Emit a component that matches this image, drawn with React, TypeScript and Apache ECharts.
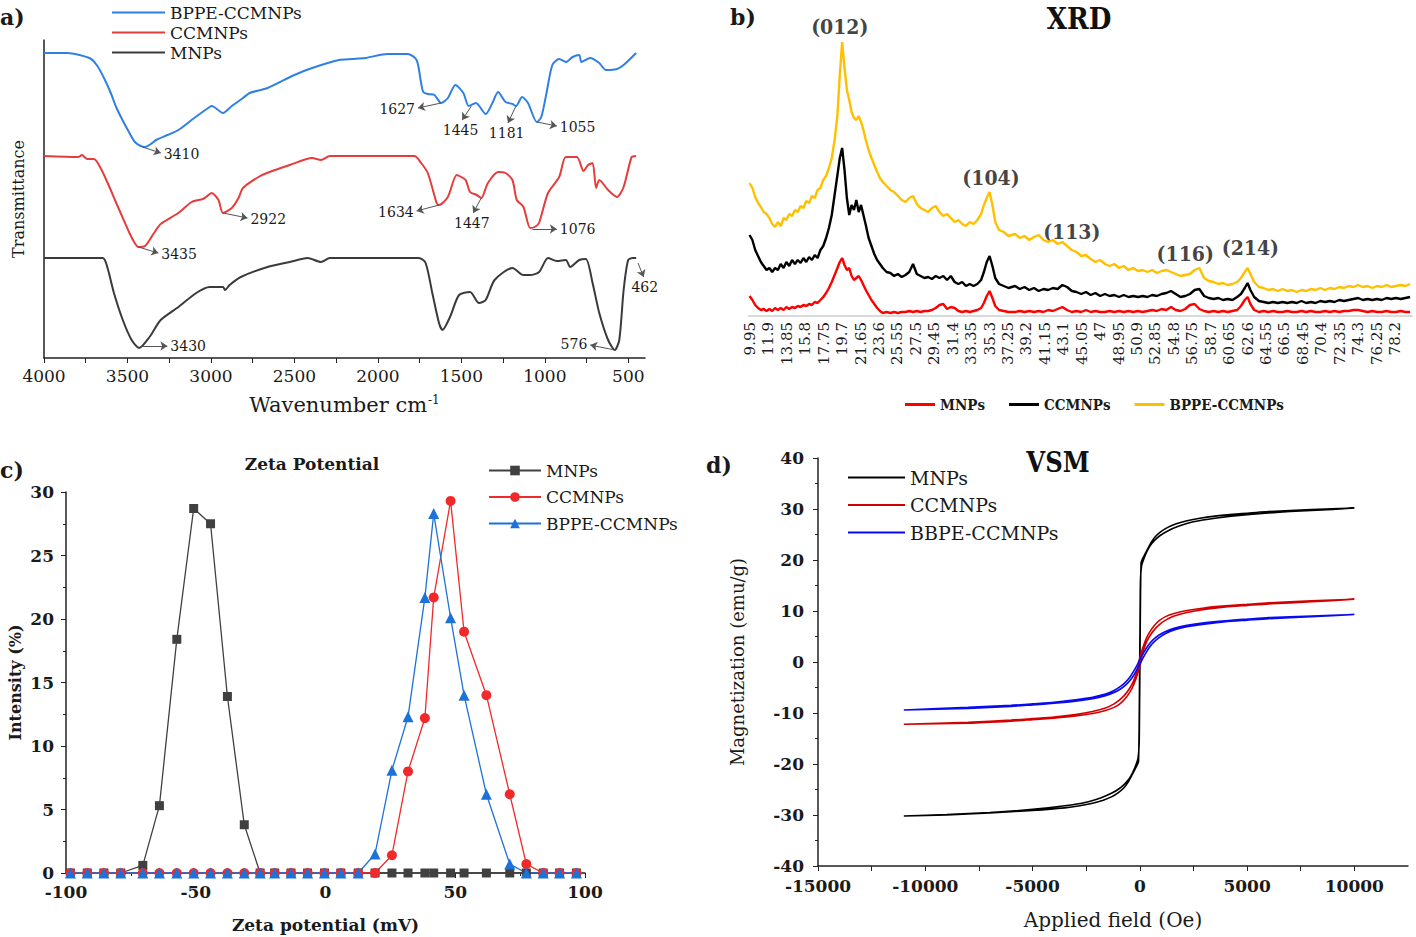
import React, { useEffect, useRef } from "react";
import * as echarts from "echarts";

const SERIF = "'DejaVu Serif', serif";
const COND = "'DejaVu Serif Condensed', 'DejaVu Serif', serif";
const INK = "#1a1a1a";

// ---------------- a) FTIR ----------------
const FTIR_TICKS = [4000, 3500, 3000, 2500, 2000, 1500, 1000, 500];
const FTIR_TICK_MARKS = [4000, 3750, 3500, 3250, 3000, 2750, 2500, 2250, 2000, 1750, 1500, 1250, 1000, 750, 500];
const FTIR_BPPE: [number, number][] = [
  [4000, 305], [3861, 305], [3728, 300], [3680, 292], [3635, 278], [3600, 265], [3568, 251], [3530, 238],
  [3488, 225], [3455, 216], [3421, 212], [3395, 211], [3360, 214], [3328, 218], [3260, 223], [3195, 228],
  [3100, 240], [3008, 251], [2995, 252], [2928, 245], [2875, 252], [2808, 260], [2768, 265], [2661, 270],
  [2500, 283], [2394, 290], [2234, 298], [2150, 299], [2075, 300], [1941, 304], [1821, 304], [1768, 298],
  [1741, 275], [1728, 266], [1700, 264], [1661, 263], [1621, 255], [1581, 260], [1536, 273], [1488, 265],
  [1456, 252], [1413, 255], [1354, 244], [1314, 255], [1280, 266], [1235, 256], [1194, 254], [1173, 252],
  [1136, 261], [1101, 255], [1048, 236], [1021, 241], [990, 265], [955, 293], [914, 299], [874, 296],
  [834, 301], [794, 303], [781, 296], [728, 300], [674, 295], [634, 288], [568, 289], [528, 293], [453, 305],
];
const FTIR_CC: [number, number][] = [
  [4000, 202], [3795, 201], [3773, 203], [3741, 199], [3701, 199], [3661, 190], [3608, 171], [3575, 158],
  [3541, 145], [3488, 125], [3460, 116], [3435, 111], [3395, 112], [3341, 125], [3301, 134], [3195, 145],
  [3115, 156], [3048, 159], [3029, 161], [2995, 165], [2955, 158], [2928, 145], [2875, 150], [2835, 160],
  [2808, 170], [2715, 181], [2650, 186], [2528, 193], [2394, 200], [2341, 198], [2288, 202], [1781, 202],
  [1741, 195], [1701, 185], [1648, 155], [1634, 153], [1581, 161], [1528, 183], [1501, 181], [1474, 178],
  [1448, 166], [1408, 163], [1381, 160], [1341, 175], [1280, 186], [1235, 185], [1194, 178], [1168, 158],
  [1128, 151], [1088, 130], [1061, 131], [1035, 135], [981, 165], [914, 181], [874, 201], [808, 201],
  [768, 187], [741, 193], [714, 195], [693, 170], [674, 178], [621, 168], [568, 161], [528, 171],
  [480, 201], [453, 202],
];
const FTIR_MNP: [number, number][] = [
  [4000, 100], [3648, 100], [3621, 91], [3581, 65], [3528, 38], [3475, 18], [3430, 10], [3368, 21],
  [3301, 38], [3195, 51], [3088, 65], [3008, 71], [2928, 71], [2915, 68], [2888, 73], [2821, 81],
  [2661, 91], [2528, 96], [2421, 100], [2341, 96], [2288, 100], [1754, 100], [1714, 95], [1674, 65],
  [1634, 35], [1613, 28], [1568, 41], [1514, 63], [1448, 66], [1394, 55], [1354, 58], [1301, 78],
  [1194, 90], [1128, 83], [1088, 83], [1034, 86], [981, 100], [928, 97], [874, 98], [848, 91],
  [794, 98], [754, 99], [714, 75], [674, 45], [621, 18], [581, 8], [554, 18], [528, 68],
  [501, 98], [474, 100], [453, 100],
];
const NOTES_BPPE = [
  { text: "3410", from: [3410, 211], to: [3300, 205] },
  { text: "1627", from: [1621, 255], to: [1760, 250] },
  { text: "1445", from: [1440, 252], to: [1495, 238] },
  { text: "1181", from: [1173, 252], to: [1221, 235] },
  { text: "1055", from: [1048, 236], to: [928, 232] },
];
const NOTES_CC = [
  { text: "3435", from: [3435, 111], to: [3315, 105] },
  { text: "2922", from: [2928, 145], to: [2781, 140] },
  { text: "1634", from: [1634, 153], to: [1768, 147] },
  { text: "1447", from: [1381, 160], to: [1429, 145] },
  { text: "1076", from: [1074, 129], to: [928, 129] },
];
const NOTES_MNP = [
  { text: "3430", from: [3421, 12], to: [3261, 12] },
  { text: "576", from: [581, 8], to: [728, 13] },
  { text: "462", from: [442, 95], to: [408, 81] },
];

// ---------------- b) XRD ----------------
const XRD_TICKS = [9.95, 11.9, 13.85, 15.8, 17.75, 19.7, 21.65, 23.6, 25.55, 27.5, 29.45, 31.4, 33.35, 35.3,
  37.25, 39.2, 41.15, 43.1, 45.05, 47, 48.95, 50.9, 52.85, 54.8, 56.75, 58.7, 60.65, 62.6, 64.55, 66.5,
  68.45, 70.4, 72.35, 74.3, 76.25, 78.2];
const THETA = [
  9.9, 10.2, 10.5, 10.8, 11.1, 11.4, 11.7, 12.0, 12.3, 12.6, 12.9, 13.2, 13.5, 13.8, 14.1, 14.4, 14.7, 15.0,
  15.3, 15.6, 15.9, 16.2, 16.5, 16.8, 17.1, 17.4, 17.7, 18.0, 18.3, 18.6, 18.9, 19.2,
  19.45, 19.7, 19.95, 20.2, 20.45, 20.7, 20.95, 21.2, 21.45, 21.7, 21.95, 22.2,
  22.5, 22.8, 23.1, 23.4, 23.7,
  24.0, 24.4, 24.8, 25.2, 25.6, 26.0, 26.4, 26.8, 27.2, 27.6, 28.0, 28.4, 28.8, 29.2, 29.6, 30.0, 30.4, 30.8,
  31.2, 31.6, 32.0, 32.4, 32.8, 33.2, 33.6, 34.0, 34.4,
  34.7, 35.0, 35.3, 35.6, 35.9, 36.3,
  36.8, 37.3,
  38.0, 38.5, 39.0, 39.5, 40.0, 40.5, 41.0, 41.5, 42.0, 42.5, 43.0, 43.5, 44.0, 44.5, 45.0, 45.5, 46.0, 46.5,
  47.0, 47.5, 48.0, 48.5, 49.0, 49.5, 50.0, 50.5, 51.0, 51.5, 52.0, 52.5, 53.0, 53.5, 54.0, 54.5,
  55.0, 55.5, 56.0, 56.5, 57.0, 57.5, 58.0, 58.5, 59.0, 59.5, 60.0, 60.5, 61.0, 61.5,
  61.9, 62.3, 62.6, 62.9, 63.3,
  63.8, 64.3, 64.8, 65.3, 65.8, 66.3, 66.8, 67.3, 67.8, 68.3, 68.8, 69.3, 69.8, 70.3, 70.8, 71.3, 71.8, 72.3,
  72.8, 73.3, 73.8, 74.3, 74.8, 75.3, 75.8, 76.3, 76.8, 77.3, 77.8, 78.3, 78.8, 79.3, 79.8,
];
const XRD_BPPE = [
  133, 128, 119, 113, 109, 104, 102, 98, 92, 89, 94, 90, 98, 96, 102, 100, 106, 104, 110, 108, 115, 113, 120, 118,
  126, 128, 136, 140, 148, 158, 176, 201,
  241, 274, 248, 226, 216, 204, 198, 196, 200, 194, 186, 176,
  166, 158, 151, 144, 138,
  134, 130, 126, 124, 120, 116, 114, 118, 120, 112, 108, 106, 104, 108, 110, 104, 100, 102, 98, 94, 96, 92, 90,
  94, 92, 96, 102,
  111, 118, 124, 111, 94, 86,
  84, 80,
  82, 78, 80, 76, 79, 81, 76, 74, 76, 72, 74, 70, 66, 64, 60, 61, 57, 54, 56, 52, 50, 52, 48, 50, 46, 48, 45, 46,
  44, 46, 43, 45, 46, 44,
  42, 40, 41, 42, 46, 48, 38, 35, 34, 32, 33, 31, 32, 34,
  38, 44, 48, 42, 34,
  29, 28, 26, 27, 25, 27, 25, 26, 24, 26, 25, 27, 26, 28, 26, 28, 27, 29, 28, 30, 29, 31, 29, 30, 28, 30, 29, 31,
  29, 30, 31, 30, 32,
];
const XRD_CC = [
  81, 76, 66, 60, 54, 50, 46, 48, 44, 48, 46, 52, 48, 54, 50, 56, 52, 56, 53, 58, 54, 59, 56, 61, 58, 66, 70, 78,
  88, 101, 121, 141,
  158, 168, 146, 118, 101, 111, 106, 116, 104, 111, 101, 91,
  78, 70, 62, 56, 52,
  48, 44, 43, 40, 42, 39, 41, 44, 52, 42, 40, 38, 39, 37, 40, 38, 40, 36, 40, 34, 32, 34, 30, 32, 30, 32, 36,
  44, 54, 60, 50, 38, 32,
  30, 28,
  30, 27, 29, 26, 28, 25, 27, 26, 28, 27, 31, 29, 25, 24, 22, 24, 21, 23, 20, 22, 20, 21, 19, 21, 19, 20, 19, 20,
  19, 21, 20, 22, 23, 25,
  22, 19, 20, 22, 26, 27, 20, 18, 17, 18, 16, 17, 16, 19,
  22, 28, 33, 26, 19,
  15, 14, 13, 14, 13, 14, 13, 14, 13, 15, 13, 14, 13, 15, 14, 15, 14, 16, 15, 16, 17, 18, 16, 17, 16, 17, 16, 18,
  17, 18, 17, 18, 19,
];
const XRD_MNPS = [
  20, 16, 11, 8, 6, 7, 5, 7, 5, 8, 6, 8, 6, 9, 7, 9, 8, 10, 9, 11, 10, 12, 11, 14, 13, 16, 19, 23, 28, 34, 41, 48,
  54, 58, 51, 46, 48, 40, 36, 38, 40, 36, 31, 26,
  21, 16, 12, 8, 5,
  3, 4, 3, 4, 3, 4, 4, 5, 4, 5, 4, 5, 5, 6, 8, 11, 12, 7, 9, 8, 5, 4, 5, 4, 5, 6, 8,
  13, 20, 25, 18, 10, 6,
  5, 4,
  4, 5, 4, 5, 4, 5, 4, 6, 5, 7, 9, 6, 4, 5, 4, 6, 4, 5, 4, 4, 5, 4, 5, 4, 5, 4, 5, 4, 5, 6, 5, 7, 6, 9,
  6, 5, 7, 11, 12, 7, 5, 4, 5, 4, 5, 4, 5, 6,
  10, 16, 19, 12, 6,
  4, 5, 4, 5, 4, 4, 5, 4, 4, 5, 4, 5, 4, 4, 5, 4, 5, 4, 5, 5, 6, 6, 5, 4, 5, 4, 4, 5, 4, 4, 5, 4, 4,
];
const XRD_HKL = [
  { name: "(012)", value: [19.45, 290] },
  { name: "(104)", value: [35.45, 139] },
  { name: "(113)", value: [44.0, 85] },
  { name: "(116)", value: [56.0, 63] },
  { name: "(214)", value: [62.9, 69] },
];

// ---------------- c) Zeta potential ----------------
const ZETA_X = [-98.3, -91.8, -85.4, -78.9, -70.4, -64.0, -57.3, -50.8, -44.3, -37.8, -31.3, -25.2, -19.6, -13.3,
  -6.9, -0.4, 5.9, 12.6, 19.1, 25.6, 31.8, 38.3, 41.7, 48.2, 53.4, 62.0, 71.0, 77.4, 83.9, 90.2, 96.7];
const ZETA_MNPS = [0, 0, 0, 0, 0.6, 5.3, 18.4, 28.7, 27.5, 13.9, 3.8, 0, 0, 0, 0, 0, 0, 0, 0, 0, 0, 0, 0, 0, 0,
  0, 0, 0, 0, 0, 0];
const ZETA_CC = [0, 0, 0, 0, 0, 0, 0, 0, 0, 0, 0, 0, 0, 0, 0, 0, 0, 0, 0, 1.4, 8.0, 12.2, 21.7, 29.3, 19.0, 14.0,
  6.2, 0.7, 0, 0, 0];
const ZETA_BPPE = [0, 0, 0, 0, 0, 0, 0, 0, 0, 0, 0, 0, 0, 0, 0, 0, 0, 0, 1.5, 8.1, 12.3, 21.7, 28.3, 20.1, 14.0,
  6.2, 0.7, 0, 0, 0, 0];

// ---------------- d) VSM ----------------
const VSM_LABELS = [-15000, -10000, -5000, 0, 5000, 10000];
const VSM_TICKS = [-15000, -12500, -10000, -7500, -5000, -2500, 0, 2500, 5000, 7500, 10000];
const VSM_MNPS: [number, number][] = [
  [10000, 30.2], [8000, 29.9], [6000, 29.5], [4500, 29.0], [3500, 28.6], [2800, 28.2], [2200, 27.7], [1700, 27.1],
  [1300, 26.4], [1000, 25.6], [750, 24.7], [550, 23.6], [380, 22.3], [220, 21.0], [120, 20.2], [60, 19.5],
  [30, 12], [10, 2], [-10, -8], [-30, -16], [-80, -18.8], [-150, -19.8], [-300, -21.4], [-480, -22.8],
  [-700, -23.9], [-950, -24.8], [-1300, -25.7], [-1800, -26.6], [-2500, -27.5], [-3500, -28.2], [-5000, -28.9],
  [-7000, -29.5], [-9000, -29.9], [-11000, -30.2],
  [-9000, -30.0], [-7000, -29.6], [-5000, -29.1], [-3500, -28.6], [-2800, -28.2], [-2200, -27.7], [-1700, -27.1],
  [-1300, -26.4], [-1000, -25.6], [-750, -24.7], [-550, -23.6], [-380, -22.3], [-220, -21.0], [-120, -20.2],
  [-60, -19.5], [-30, -12], [-10, -2], [10, 8], [30, 16], [80, 18.8], [150, 19.8], [300, 21.4], [480, 22.8],
  [700, 23.9], [950, 24.8], [1300, 25.7], [1800, 26.6], [2500, 27.5], [3500, 28.2], [5000, 28.9], [7000, 29.5],
  [9000, 29.9], [10000, 30.2],
];
const VSM_CC: [number, number][] = [
  [10000, 12.3], [8000, 12.0], [6000, 11.6], [5000, 11.3], [4000, 11.0], [3000, 10.6], [2200, 10.1], [1600, 9.5],
  [1200, 8.9], [900, 8.1], [650, 7.0], [450, 5.8], [300, 4.6], [180, 3.3], [80, 2.0], [0, 0.8], [-80, -0.8],
  [-180, -2.4], [-300, -3.8], [-450, -5.0], [-650, -6.2], [-900, -7.3], [-1200, -8.2], [-1600, -9.0],
  [-2200, -9.7], [-3000, -10.3], [-4000, -10.8], [-5000, -11.1], [-6000, -11.4], [-8000, -11.8], [-11000, -12.2],
  [-8000, -12.0], [-6000, -11.6], [-5000, -11.3], [-4000, -11.0], [-3000, -10.6], [-2200, -10.1], [-1600, -9.5],
  [-1200, -8.9], [-900, -8.1], [-650, -7.0], [-450, -5.8], [-300, -4.6], [-180, -3.3], [-80, -2.0], [0, -0.8],
  [80, 0.8], [180, 2.4], [300, 3.8], [450, 5.0], [650, 6.2], [900, 7.3], [1200, 8.2], [1600, 9.0], [2200, 9.7],
  [3000, 10.3], [4000, 10.8], [5000, 11.1], [6000, 11.4], [8000, 11.8], [10000, 12.3],
];
const VSM_BBPE: [number, number][] = [
  [10000, 9.3], [8000, 9.0], [6000, 8.7], [5000, 8.4], [4000, 8.1], [3000, 7.7], [2200, 7.2], [1600, 6.6],
  [1200, 6.0], [900, 5.3], [650, 4.5], [450, 3.6], [300, 2.7], [150, 1.6], [0, 0.5], [-150, -0.8], [-300, -1.9],
  [-450, -2.9], [-650, -3.9], [-900, -4.8], [-1200, -5.6], [-1600, -6.3], [-2200, -6.9], [-3000, -7.4],
  [-4000, -7.9], [-5000, -8.2], [-6000, -8.5], [-8000, -8.9], [-11000, -9.4],
  [-8000, -9.1], [-6000, -8.7], [-5000, -8.4], [-4000, -8.1], [-3000, -7.7], [-2200, -7.2], [-1600, -6.6],
  [-1200, -6.0], [-900, -5.3], [-650, -4.5], [-450, -3.6], [-300, -2.7], [-150, -1.6], [0, -0.5], [150, 0.8],
  [300, 1.9], [450, 2.9], [650, 3.9], [900, 4.8], [1200, 5.6], [1600, 6.3], [2200, 6.9], [3000, 7.4], [4000, 7.9],
  [5000, 8.2], [6000, 8.5], [8000, 8.9], [10000, 9.3],
];

const strip = (n: string) => n.split("#")[0];
const plain = (v: number) => String(v);

function notesLine(notes: { text: string; from: number[]; to: number[] }[]) {
  return {
    silent: true,
    symbol: ["none", "arrow"],
    symbolSize: 7,
    lineStyle: { color: "#555", width: 1, type: "solid" },
    label: { show: true, position: "end", formatter: "{b}", fontFamily: SERIF, fontSize: 14, color: INK, distance: 3 },
    emphasis: { disabled: true },
    data: notes.map((n) => [{ coord: n.from, name: n.text }, { coord: n.to }]),
  };
}

function buildOption(): any {
  const axisLineStyle = { color: "#222", width: 1.5 };
  const boldLabel = { fontFamily: SERIF, fontWeight: "bold", fontSize: 17, color: INK };
  const ftirLine = (name: string, color: string, data: any, notes: any) => ({
    name, type: "line", xAxisIndex: 0, yAxisIndex: 0, data, symbol: "none", smooth: 0.25,
    lineStyle: { color, width: 2 }, itemStyle: { color }, markLine: notesLine(notes),
  });
  const xrdLine = (name: string, color: string, ys: number[]) => ({
    name, type: "line", xAxisIndex: 1, yAxisIndex: 1, symbol: "none",
    data: THETA.map((t, i) => [t, ys[i]]), lineStyle: { color, width: 2.4 }, itemStyle: { color },
  });
  const zetaLine = (name: string, color: string, ys: number[], symbol: string, size: number) => ({
    name, type: "line", xAxisIndex: 2, yAxisIndex: 2, symbol, symbolSize: size, showSymbol: true,
    data: ZETA_X.map((x, i) => [x, ys[i]]), lineStyle: { color, width: 1.3 }, itemStyle: { color },
  });
  const vsmLine = (name: string, color: string, data: any) => ({
    name, type: "line", xAxisIndex: 3, yAxisIndex: 3, symbol: "none", data, smooth: 0.2,
    lineStyle: { color, width: 1.6 }, itemStyle: { color },
  });

  return {
    animation: false,
    backgroundColor: "#fff",
    grid: [
      { left: 44, top: 40, width: 601, height: 318, containLabel: false, outerBoundsMode: "none" },
      { left: 748.6, top: 10, width: 663.4, height: 306, containLabel: false, outerBoundsMode: "none" },
      { left: 66, top: 492, width: 519, height: 381, containLabel: false, outerBoundsMode: "none" },
      { left: 818, top: 458, width: 590, height: 408, containLabel: false, outerBoundsMode: "none" },
    ],
    xAxis: [
      {
        gridIndex: 0, type: "value", min: 400, max: 4000, inverse: true,
        axisLine: { show: true, onZero: false, lineStyle: axisLineStyle },
        axisTick: { show: true, customValues: FTIR_TICK_MARKS, length: 5, lineStyle: { color: "#222" } },
        axisLabel: { customValues: FTIR_TICKS, formatter: plain, fontFamily: SERIF, fontSize: 17, color: INK, margin: 9 },
        splitLine: { show: false },
        name: "Wavenumber cm{sup|-1}", nameLocation: "middle", nameGap: 36,
        nameTextStyle: { fontFamily: SERIF, fontSize: 21, color: INK, rich: { sup: { fontFamily: SERIF, fontSize: 12, color: INK, verticalAlign: "top", padding: [0, 0, 10, 1] } } },
      },
      {
        gridIndex: 1, type: "value", min: 9.8, max: 80,
        axisLine: { show: true, onZero: false, lineStyle: { color: "#d9d9d9", width: 2 } },
        axisTick: { show: false },
        axisLabel: { customValues: XRD_TICKS, rotate: 90, fontFamily: SERIF, fontSize: 15, color: INK, margin: 6, formatter: plain },
        splitLine: { show: false },
      },
      {
        gridIndex: 2, type: "value", min: -100, max: 100, interval: 50,
        axisLine: { show: true, onZero: false, lineStyle: axisLineStyle },
        axisTick: { show: true, length: 5, lineStyle: { color: "#222" } },
        minorTick: { show: true, splitNumber: 2, length: 3, lineStyle: { color: "#222" } },
        axisLabel: { ...boldLabel, margin: 10, formatter: plain },
        splitLine: { show: false },
        name: "Zeta potential (mV)", nameLocation: "middle", nameGap: 43,
        nameTextStyle: { fontFamily: SERIF, fontWeight: "bold", fontSize: 17, color: INK },
      },
      {
        gridIndex: 3, type: "value", min: -15000, max: 12500,
        axisLine: { show: true, onZero: false, lineStyle: axisLineStyle },
        axisTick: { show: true, customValues: VSM_TICKS, length: 5, lineStyle: { color: "#222" } },
        axisLabel: { ...boldLabel, customValues: VSM_LABELS, formatter: plain, margin: 11 },
        splitLine: { show: false },
        name: "Applied field (Oe)", nameLocation: "middle", nameGap: 44,
        nameTextStyle: { fontFamily: SERIF, fontSize: 20, color: INK },
      },
    ],
    yAxis: [
      {
        gridIndex: 0, type: "value", min: 0, max: 318,
        axisLine: { show: true, onZero: false, lineStyle: axisLineStyle },
        axisTick: { show: false }, axisLabel: { show: false }, splitLine: { show: false },
        name: "Transmittance", nameLocation: "middle", nameGap: 18,
        nameTextStyle: { fontFamily: SERIF, fontSize: 16, color: INK },
      },
      { gridIndex: 1, type: "value", min: 0, max: 306, show: false },
      {
        gridIndex: 2, type: "value", min: 0, max: 30, interval: 5,
        axisLine: { show: true, onZero: false, lineStyle: axisLineStyle },
        axisTick: { show: true, length: 5, lineStyle: { color: "#222" } },
        minorTick: { show: true, splitNumber: 2, length: 3, lineStyle: { color: "#222" } },
        axisLabel: { ...boldLabel, margin: 12, formatter: plain },
        splitLine: { show: false },
        name: "Intensity (%)", nameLocation: "middle", nameGap: 43,
        nameTextStyle: { fontFamily: SERIF, fontWeight: "bold", fontSize: 16, color: INK },
      },
      {
        gridIndex: 3, type: "value", min: -40, max: 40, interval: 10,
        axisLine: { show: true, onZero: false, lineStyle: axisLineStyle },
        axisTick: { show: true, length: 5, lineStyle: { color: "#222" } },
        minorTick: { show: true, splitNumber: 2, length: 3, lineStyle: { color: "#222" } },
        axisLabel: { ...boldLabel, margin: 14, formatter: plain },
        splitLine: { show: false },
        name: "Magnetization (emu/g)", nameLocation: "middle", nameGap: 72,
        nameTextStyle: { fontFamily: SERIF, fontSize: 18, color: INK },
      },
    ],
    legend: [
      {
        left: 112, top: 4, padding: 0, orient: "vertical", icon: "rect", itemWidth: 53, itemHeight: 2, itemGap: 3,
        data: ["BPPE-CCMNPs#a", "CCMNPs#a", "MNPs#a"], formatter: strip, selectedMode: false,
        textStyle: { fontFamily: SERIF, fontSize: 17, color: INK },
      },
      {
        left: 905, top: 397, padding: 0, orient: "horizontal", icon: "rect", itemWidth: 30, itemHeight: 3, itemGap: 24,
        data: ["MNPs#b", "CCMNPs#b", "BPPE-CCMNPs#b"], formatter: strip, selectedMode: false,
        textStyle: { fontFamily: COND, fontWeight: "bold", fontSize: 15, color: INK },
      },
      {
        left: 488, top: 462, padding: 0, orient: "vertical", itemWidth: 52, itemHeight: 12, itemGap: 9.5,
        data: ["MNPs#c", "CCMNPs#c", "BPPE-CCMNPs#c"], formatter: strip, selectedMode: false,
        textStyle: { fontFamily: SERIF, fontSize: 17, color: INK },
      },
      {
        left: 848, top: 468, padding: 0, orient: "vertical", icon: "rect", itemWidth: 57, itemHeight: 2, itemGap: 8.5,
        data: ["MNPs#d", "CCMNPs#d", "BBPE-CCMNPs#d"], formatter: strip, selectedMode: false,
        textStyle: { fontFamily: SERIF, fontSize: 19, color: INK },
      },
    ],
    graphic: [
      { type: "text", x: 0, y: 6, style: { text: "a)", fontFamily: SERIF, fontWeight: "bold", fontSize: 22, fill: INK } },
      { type: "text", x: 730, y: 6, style: { text: "b)", fontFamily: SERIF, fontWeight: "bold", fontSize: 22, fill: INK } },
      { type: "text", x: 0, y: 459, style: { text: "c)", fontFamily: SERIF, fontWeight: "bold", fontSize: 22, fill: INK } },
      { type: "text", x: 706, y: 454, style: { text: "d)", fontFamily: SERIF, fontWeight: "bold", fontSize: 22, fill: INK } },
      { type: "text", x: 1079, y: 4, style: { text: "XRD", textAlign: "center", align: "center", fontFamily: COND, fontWeight: "bold", fontSize: 29, fill: "#111" } },
      { type: "text", x: 312, y: 455, style: { text: "Zeta Potential", textAlign: "center", align: "center", fontFamily: SERIF, fontWeight: "bold", fontSize: 17, fill: INK } },
      { type: "text", x: 1058, y: 449, style: { text: "VSM", textAlign: "center", align: "center", fontFamily: COND, fontWeight: "bold", fontSize: 27, fill: "#111" } },
    ],
    series: [
      ftirLine("BPPE-CCMNPs#a", "#2f80e4", FTIR_BPPE, NOTES_BPPE),
      ftirLine("CCMNPs#a", "#e63c3c", FTIR_CC, NOTES_CC),
      ftirLine("MNPs#a", "#3a3a3a", FTIR_MNP, NOTES_MNP),

      xrdLine("BPPE-CCMNPs#b", "#ffc000", XRD_BPPE),
      xrdLine("CCMNPs#b", "#000000", XRD_CC),
      xrdLine("MNPs#b", "#ff0000", XRD_MNPS),
      {
        name: "hkl#b", type: "scatter", xAxisIndex: 1, yAxisIndex: 1, symbolSize: 1,
        itemStyle: { color: "rgba(0,0,0,0)" }, silent: true,
        label: { show: true, position: "inside", formatter: "{b}", fontFamily: COND, fontWeight: "bold", fontSize: 21, color: "#111" },
        data: XRD_HKL,
      },

      zetaLine("MNPs#c", "#404040", ZETA_MNPS, "rect", 9),
      zetaLine("CCMNPs#c", "#f02a2a", ZETA_CC, "circle", 10),
      zetaLine("BPPE-CCMNPs#c", "#1d72d8", ZETA_BPPE, "triangle", 11),

      vsmLine("MNPs#d", "#000000", VSM_MNPS),
      vsmLine("CCMNPs#d", "#d40000", VSM_CC),
      vsmLine("BBPE-CCMNPs#d", "#0a0af0", VSM_BBPE),
    ],
  };
}

export default function App() {
  const ref = useRef<HTMLDivElement>(null);
  useEffect(() => {
    if (!ref.current) return;
    const chart = echarts.init(ref.current, null, { renderer: "svg" });
    chart.setOption(buildOption());
    return () => chart.dispose();
  }, []);
  return (
    <div
      ref={ref}
      style={{ position: "fixed", left: 0, top: 0, width: 1416, height: 937, background: "#fff" }}
    />
  );
}
